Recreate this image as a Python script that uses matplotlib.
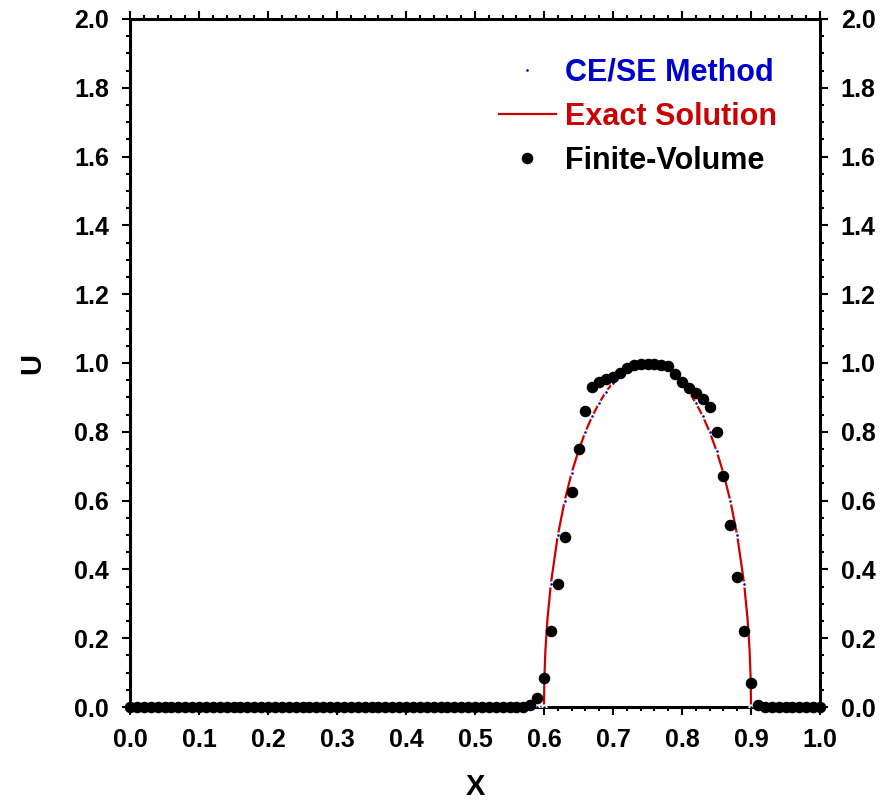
import numpy as np
import matplotlib
matplotlib.use("Agg")
import matplotlib.pyplot as plt
from matplotlib.ticker import MultipleLocator

plt.rcParams['font.family'] = ['Liberation Sans', 'DejaVu Sans']
plt.rcParams['font.weight'] = 'bold'

# grid of the numerical solutions, dx = 0.01
x_grid = np.round(np.arange(101) * 0.01, 2)

# finite-volume values
fv_u = ([0.0] * 57 +
        [0.001, 0.006, 0.027, 0.085, 0.222, 0.357, 0.494, 0.624, 0.75, 0.861,
         0.929, 0.946, 0.953, 0.960, 0.972, 0.985, 0.995, 0.997, 0.997, 0.997,
         0.995, 0.99, 0.968, 0.946, 0.926, 0.912, 0.895, 0.871, 0.80, 0.671,
         0.529, 0.379, 0.222, 0.071, 0.006] +
        [0.0] * 9)

# CE/SE values (lie on the exact curve)
cese_u = ([0.0] * 61 +
          [0.359, 0.499, 0.6, 0.68, 0.745, 0.8, 0.846, 0.884, 0.917, 0.943,
           0.964, 0.98, 0.991, 0.998, 1.0, 0.998, 0.991, 0.98, 0.964, 0.943,
           0.917, 0.884, 0.846, 0.8, 0.745, 0.68, 0.6, 0.499, 0.359] +
          [0.0] * 11)

# exact solution
exact_x = [0.0, 0.6, 0.6005, 0.602, 0.605, 0.61, 0.62, 0.63, 0.64, 0.65, 0.66,
           0.67, 0.68, 0.69, 0.70, 0.71, 0.72, 0.73, 0.74, 0.75, 0.76, 0.77,
           0.78, 0.79, 0.80, 0.81, 0.82, 0.83, 0.84, 0.85, 0.86, 0.87, 0.88,
           0.89, 0.895, 0.898, 0.8995, 0.9, 1.0]
exact_u = [0.0, 0.0, 0.082, 0.163, 0.256, 0.359, 0.499, 0.6, 0.68, 0.745, 0.8,
           0.846, 0.884, 0.917, 0.943, 0.964, 0.98, 0.991, 0.998, 1.0, 0.998,
           0.991, 0.98, 0.964, 0.943, 0.917, 0.884, 0.846, 0.8, 0.745, 0.68,
           0.6, 0.499, 0.359, 0.256, 0.163, 0.082, 0.0, 0.0]

fig = plt.figure(figsize=(8.85, 8.05), dpi=100)
ax = fig.add_axes([130/885, 1-707/805, 690/885, 688/805])

ax.plot(exact_x, exact_u, color='#cc0000', lw=1.6, zorder=2, label='Exact Solution')
ax.plot(x_grid, cese_u, ls='none', marker='o', ms=3.2, mfc='#0000cc', mec='white',
        mew=1.3, zorder=3, label='CE/SE Method')
ax.plot(x_grid, fv_u, ls='none', marker='o', ms=7.3, color='black', zorder=4,
        clip_on=False, label='Finite-Volume')

ax.set_xlim(0, 1)
ax.set_ylim(0, 2)
ax.xaxis.set_major_locator(MultipleLocator(0.1))
ax.xaxis.set_minor_locator(MultipleLocator(0.02))
ax.yaxis.set_major_locator(MultipleLocator(0.2))
ax.yaxis.set_minor_locator(MultipleLocator(0.05))
ax.tick_params(which='both', direction='out', top=True, right=True,
               labelright=True, width=1.5)
ax.tick_params(which='major', length=6, labelsize=18, pad=9)
ax.tick_params(which='minor', length=3)
ax.tick_params(axis='y', which='major', labelright=True)
for s in ax.spines.values():
    s.set_linewidth(2.2)

ax.set_xlabel('X', fontsize=21, fontweight='bold', labelpad=15)
ax.set_ylabel('U', fontsize=21, fontweight='bold', labelpad=20)

h, l = ax.get_legend_handles_labels()
order = [1, 0, 2]
ax.legend([h[i] for i in order], [l[i] for i in order], loc='upper right',
          bbox_to_anchor=(0.938, 0.944), frameon=False, fontsize=22,
          borderpad=0, borderaxespad=0, handlelength=1.87, handletextpad=0.3,
          labelspacing=0.46, labelcolor=['#0000cc', '#cc0000', 'black'])

fig.savefig('out.png', dpi=100)
